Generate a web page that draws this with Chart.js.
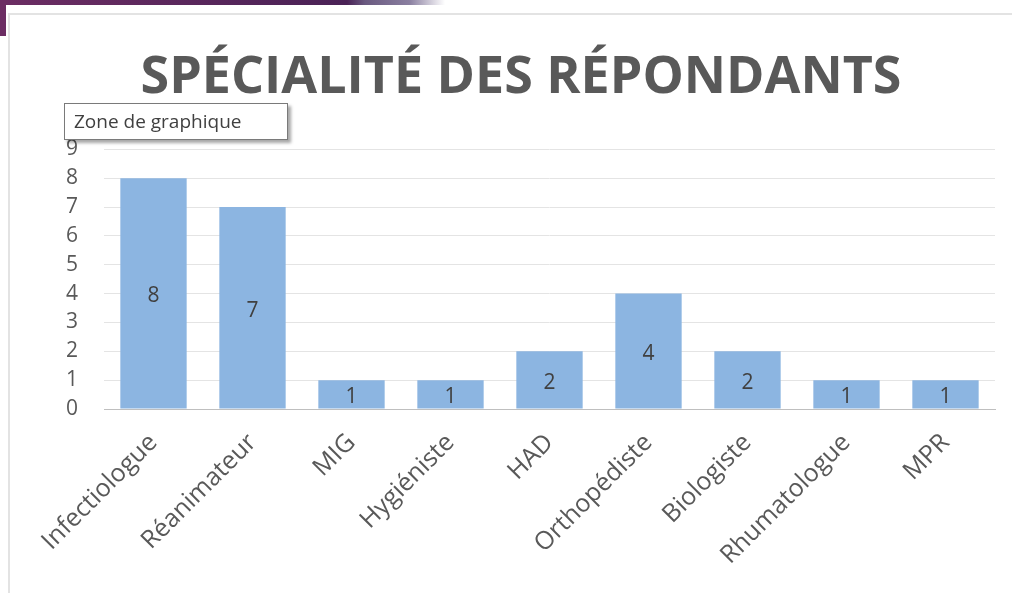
<!DOCTYPE html>
<html>
<head>
<meta charset="utf-8">
<script src="https://cdn.jsdelivr.net/npm/chart.js@4"></script>
<style>
  html, body { margin: 0; padding: 0; background: #fff; }
  body { width: 1012px; height: 593px; position: relative; overflow: hidden; }
  .band { position: absolute; left: 0; top: 0; width: 445px; height: 5px;
    background: linear-gradient(90deg, #6c2d63 0%, #4a2256 78%, #6a5a80 82%, #8a7fa0 92%, rgba(255,255,255,0) 100%); }
  .side { position: absolute; left: 0; top: 0; width: 6px; height: 36px; background: #6c2d63; }
  .frame { position: absolute; left: 8px; top: 13px; width: 1004px; height: 580px;
    border-left: 2px solid #e3e3e3; border-top: 2px solid #e3e3e3; box-sizing: border-box; }
  .wrap { position: absolute; left: 8px; top: 13px; width: 1004px; height: 580px; }
  .tip { position: absolute; left: 64px; top: 103px; width: 213px; height: 35px;
    border: 1px solid #7a7a7a; background: #fff; box-shadow: 3px 3px 3px rgba(0,0,0,0.35);
    font-family: "Open Sans", sans-serif; font-size: 19px; color: #404040;
    line-height: 35px; padding-left: 9px; box-sizing: content-box; }
</style>
</head>
<body>
<div class="band"></div>
<div class="side"></div>
<div class="frame"></div>
<div class="wrap"><canvas id="myChart" width="1004" height="580"></canvas></div>
<div class="tip">Zone de graphique</div>
<script>
const categories = ["Infectiologue", "Réanimateur", "MIG", "Hygiéniste", "HAD",
  "Orthopédiste", "Biologiste", "Rhumatologue", "MPR"];
const counts = [8, 7, 1, 1, 2, 4, 2, 1, 1];
const yTicks = [0, 1, 2, 3, 4, 5, 6, 7, 8, 9];

const textGrey = "#595959";

// draws the value in the middle of each bar
const barValues = {
  id: "barValues",
  afterDatasetsDraw(chart) {
    const ctx = chart.ctx;
    const meta = chart.getDatasetMeta(0);
    ctx.save();
    ctx.font = "21px 'Open Sans', sans-serif";
    ctx.fillStyle = "#404040";
    ctx.textAlign = "center";
    ctx.textBaseline = "middle";
    meta.data.forEach((bar, i) => {
      ctx.fillText(String(counts[i]), bar.x, (bar.y + bar.base) / 2 + 3);
    });
    ctx.restore();
  }
};

const ctx = document.getElementById("myChart");

const myChart = new Chart(ctx, {
  type: "bar",
  data: {
    labels: categories,
    datasets: [
      {
        label: "Spécialité",
        data: counts,
        backgroundColor: "#8cb5e1",
        borderWidth: 0,
        barPercentage: 0.67,
        categoryPercentage: 1,
      },
    ],
  },
  options: {
    responsive: false,
    animation: false,
    layout: { padding: { left: 39, right: 17, top: 0, bottom: 0 } },
    plugins: {
      legend: { display: false },
      tooltip: { enabled: false },
      title: {
        display: true,
        text: "SPÉCIALITÉ DES RÉPONDANTS",
        color: textGrey,
        font: { family: "'Open Sans', sans-serif", size: 52, weight: "bold" },
        padding: { top: 34, bottom: 40 },
      },
    },
    scales: {
      y: {
        min: 0,
        max: 9,
        afterFit(scale) { scale.width = 57; },
        afterBuildTicks(scale) { scale.ticks = yTicks.map((v) => ({ value: v })); },
        ticks: {
          color: textGrey,
          font: { family: "'Open Sans', sans-serif", size: 21 },
          padding: 26,
        },
        grid: { color: "#e4e4e4", drawTicks: false },
        border: { display: false },
      },
      x: {
        afterFit(scale) { scale.height = 184; },
        ticks: {
          color: textGrey,
          font: { family: "'Open Sans', sans-serif", size: 25 },
          minRotation: 45,
          maxRotation: 45,
          padding: 19,
        },
        grid: { display: false, drawTicks: false },
        border: { color: "#bfbfbf", width: 1 },
      },
    },
  },
  plugins: [barValues],
});
</script>
</body>
</html>
